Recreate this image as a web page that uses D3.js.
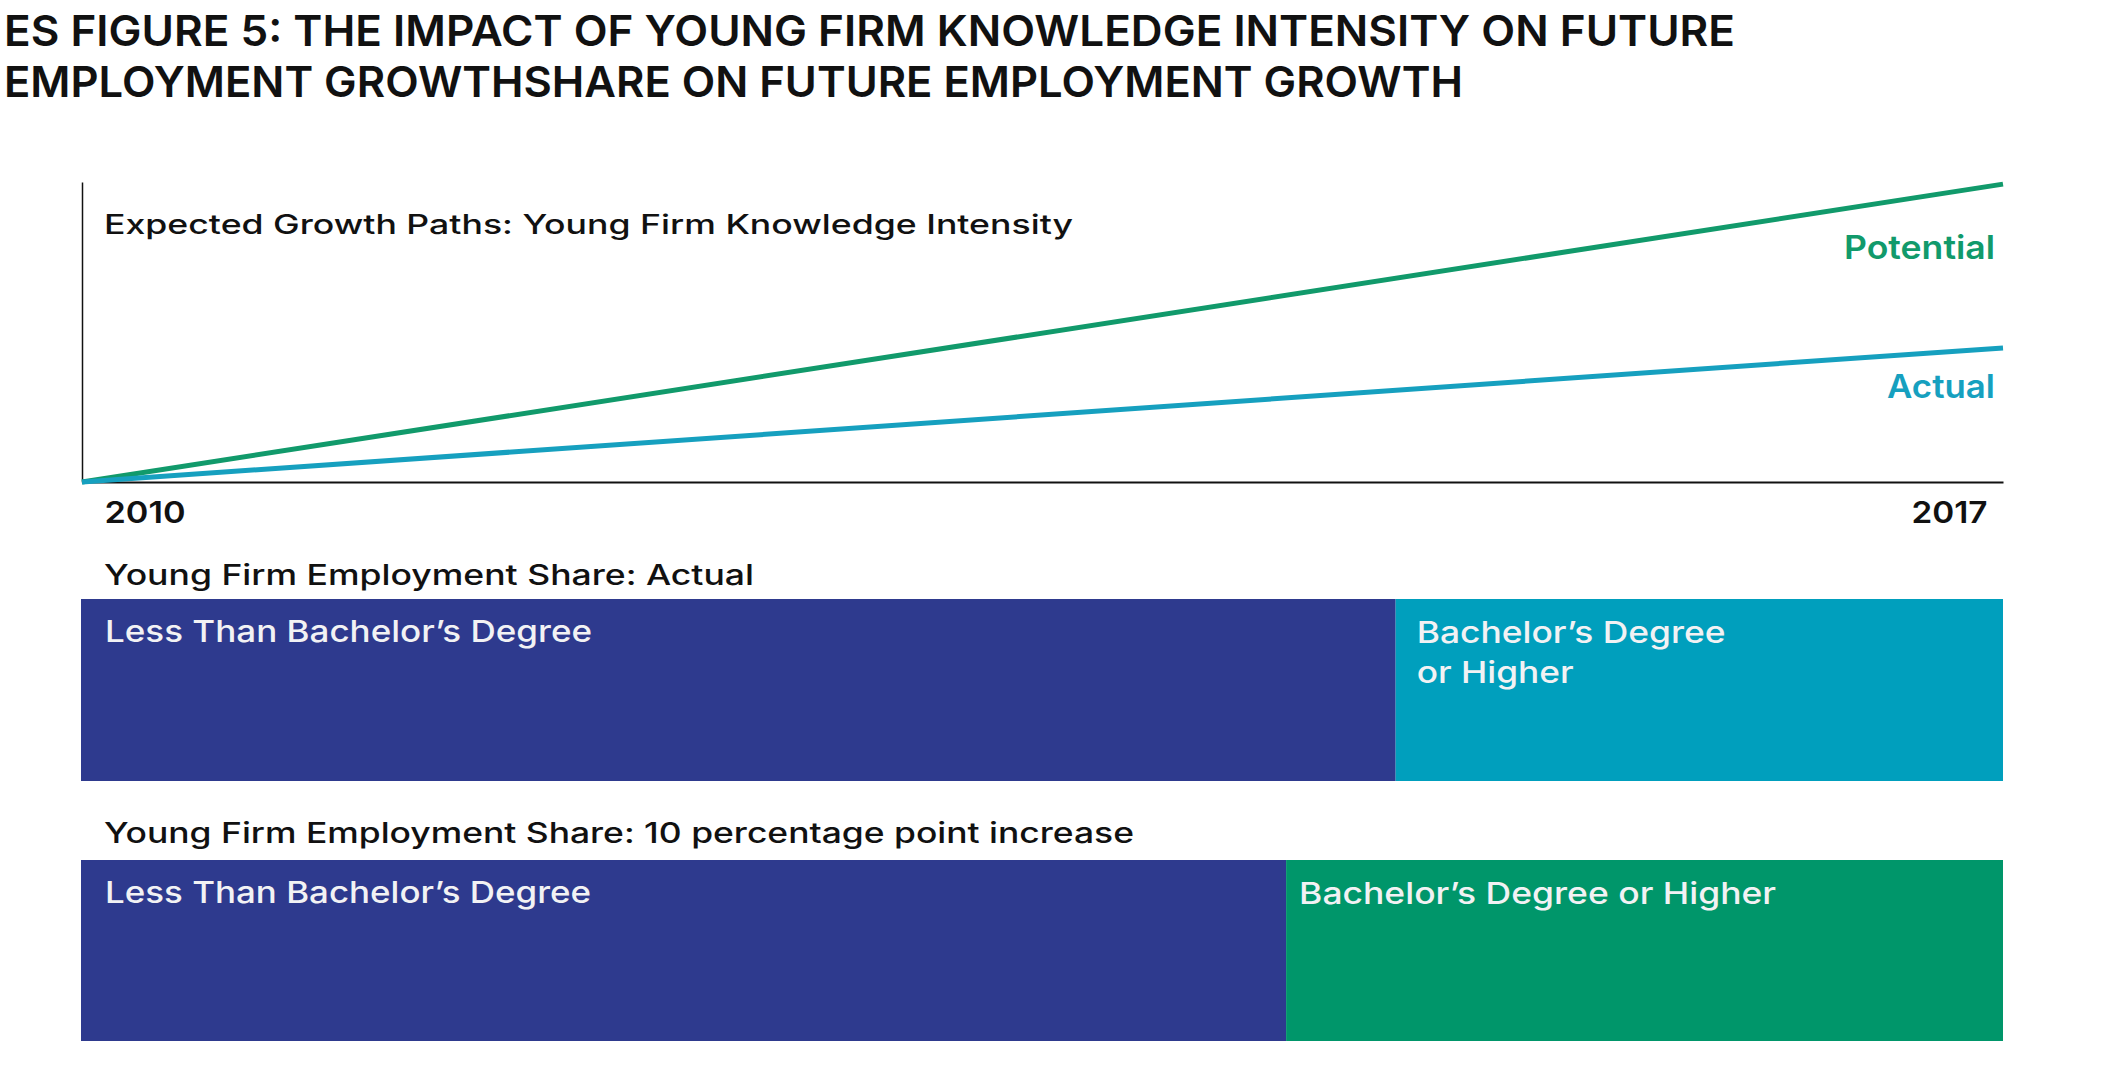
<!DOCTYPE html>
<html>
<head>
<meta charset="utf-8">
<script src="https://cdn.jsdelivr.net/npm/d3@7"></script>
<style>
  html, body { margin: 0; padding: 0; background: #ffffff; }
  svg { display: block; }
  text { font-family: "Inter", "Lato", "DejaVu Sans", sans-serif; }
</style>
</head>
<body>
<svg id="chart" width="2104" height="1070"></svg>
<script>
// ---------- data ----------
const titleLines = [
  "ES FIGURE 5: THE IMPACT OF YOUNG FIRM KNOWLEDGE INTENSITY ON FUTURE",
  "EMPLOYMENT GROWTHSHARE ON FUTURE EMPLOYMENT GROWTH"
];
const lineTitle = "Expected Growth Paths: Young Firm Knowledge Intensity";
const years = [2010, 2017];
const yearLabels = ["2010", "2017"];
const seriesNames = ["Potential", "Actual"];
const potentialValues = [0, 99.3];
const actualValues = [0, 44.7];

const barTitles = [
  "Young Firm Employment Share: Actual",
  "Young Firm Employment Share: 10 percentage point increase"
];
const shareCategories = ["Less Than Bachelor\u2019s Degree", "Bachelor\u2019s Degree or Higher"];
const lessThanShares = [68.4, 62.7];
const bachelorShares = [31.6, 37.3];
const bachelorLabels = [["Bachelor\u2019s Degree", "or Higher"], ["Bachelor\u2019s Degree or Higher"]];

// ---------- layout / style ----------
const svg = d3.select("#chart");
const navy = "#2e3a8e", teal = "#009fbd", green = "#00966a";
const lineColors = { "Potential": "#119a6b", "Actual": "#16a0bf" };

function fitText(sel, w) {
  sel.attr("textLength", w).attr("lengthAdjust", "spacingAndGlyphs");
  return sel;
}

// Title
const titleEnds = [1735, 1463];
titleLines.forEach((t, i) => {
  fitText(svg.append("text")
    .attr("x", 4).attr("y", 46 + i * 51)
    .attr("font-size", 43).attr("font-weight", 600).attr("fill", "#111")
    .text(t), titleEnds[i] - 4);
});

// Line chart
const x = d3.scaleLinear().domain(d3.extent(years)).range([82, 2003]);
const y = d3.scaleLinear().domain([0, 100]).range([482, 182]);

// y axis (plain line)
const yAxis = svg.append("g").attr("transform", `translate(${x(years[0])},0)`)
  .call(d3.axisLeft(y).tickValues([]).tickSizeOuter(0));
yAxis.select(".domain").attr("stroke", "#111").attr("stroke-width", 1.5);

// x axis
const xAxis = svg.append("g").attr("transform", `translate(0,${y(0)})`)
  .call(d3.axisBottom(x).tickValues(years).tickSize(0).tickSizeOuter(0)
    .tickFormat((d, i) => yearLabels[i]));
xAxis.select(".domain").attr("stroke", "#111").attr("stroke-width", 2);
xAxis.selectAll(".tick text")
  .attr("font-size", 30).attr("font-weight", 600).attr("fill", "#111")
  .attr("font-family", "Inter, Lato, sans-serif")
  .attr("y", 41).attr("dy", 0)
  .attr("text-anchor", (d, i) => i === 0 ? "start" : "end")
  .attr("dx", (d, i) => i === 0 ? 22 : -16)
  .each(function(d, i) { d3.select(this).attr("textLength", i === 0 ? 81 : 76).attr("lengthAdjust", "spacingAndGlyphs"); });

fitText(svg.append("text")
  .attr("x", 104).attr("y", 234)
  .attr("font-size", 27).attr("font-weight", 500).attr("fill", "#111")
  .text(lineTitle), 969);

const series = [
  { name: "Potential", values: potentialValues },
  { name: "Actual", values: actualValues }
];
const line = d3.line().x((d, i) => x(years[i])).y(d => y(d));
svg.selectAll("path.series").data(series).join("path")
  .attr("class", "series")
  .attr("d", d => line(d.values))
  .attr("fill", "none")
  .attr("stroke", d => lineColors[d.name])
  .attr("stroke-width", 5);

const seriesLabelPos = { "Potential": { y: 259, w: 151 }, "Actual": { y: 398, w: 108 } };
seriesNames.forEach(n => {
  fitText(svg.append("text")
    .attr("x", 1995).attr("y", seriesLabelPos[n].y)
    .attr("text-anchor", "end")
    .attr("font-size", 33).attr("font-weight", 600).attr("fill", lineColors[n])
    .text(n), seriesLabelPos[n].w);
});

// Stacked share bars
const xs = d3.scaleLinear().domain([0, 100]).range([81, 2003]);
const barTop = [599, 860], barH = [182, 181];
const barTitleY = [585, 843], barTitleW = [650, 1030];
const bachColors = [teal, green];
const lessTextW = [487, 486];
const bachTextW = [[309, 157], [477]];

lessThanShares.forEach((ls, i) => {
  const bs = bachelorShares[i];
  const g = svg.append("g");
  fitText(g.append("text")
    .attr("x", 104).attr("y", barTitleY[i])
    .attr("font-size", 28).attr("font-weight", 500).attr("fill", "#111")
    .text(barTitles[i]), barTitleW[i]);
  g.append("rect")
    .attr("x", xs(0)).attr("y", barTop[i])
    .attr("width", xs(ls) - xs(0)).attr("height", barH[i])
    .attr("fill", navy);
  g.append("rect")
    .attr("x", xs(ls)).attr("y", barTop[i])
    .attr("width", xs(ls + bs) - xs(ls)).attr("height", barH[i])
    .attr("fill", bachColors[i]);
  fitText(g.append("text")
    .attr("x", xs(0) + 24).attr("y", barTop[i] + 43)
    .attr("font-size", 30).attr("font-weight", 500).attr("fill", "#f2f2f4")
    .text(shareCategories[0]), lessTextW[i]);
  bachelorLabels[i].forEach((t, j) => {
    fitText(g.append("text")
      .attr("x", xs(ls) + (i === 0 ? 21 : 13)).attr("y", barTop[i] + 44 + j * 40)
      .attr("font-size", 30).attr("font-weight", 500).attr("fill", "#f2f2f4")
      .text(t), bachTextW[i][j]);
  });
});
</script>
</body>
</html>
